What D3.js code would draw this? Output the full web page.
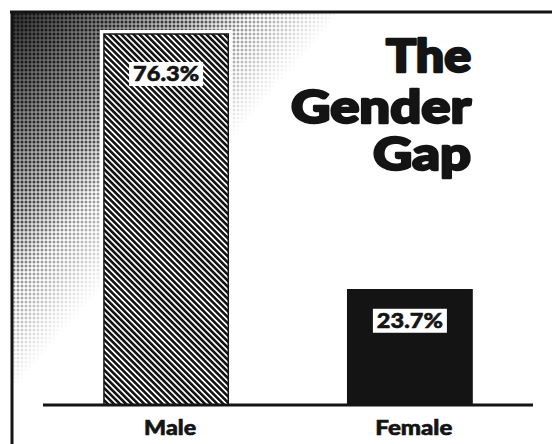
<!DOCTYPE html>
<html>
<head>
<meta charset="utf-8">
<script src="https://cdn.jsdelivr.net/npm/d3@7"></script>
<style>
  body { margin: 0; background: #fff; }
  svg { display: block; }
</style>
</head>
<body>
<script>
// data
const categories = ["Male", "Female"];
const values = [76.3, 23.7];
const valueLabels = ["76.3%", "23.7%"];
const titleLines = ["The", "Gender", "Gap"];

const W = 552, H = 444;
const ink = "#141414";

const svg = d3.select("body").append("svg")
  .attr("width", W)
  .attr("height", H);

const defs = svg.append("defs");

// halftone dots for the shaded corner
const dots = defs.append("pattern")
  .attr("id", "dots")
  .attr("patternUnits", "userSpaceOnUse")
  .attr("width", 4)
  .attr("height", 4);
dots.append("circle")
  .attr("cx", 2).attr("cy", 2).attr("r", 1.5)
  .attr("fill", ink);

const fade = defs.append("linearGradient")
  .attr("id", "fade")
  .attr("gradientUnits", "userSpaceOnUse")
  .attr("x1", 12).attr("y1", 12)
  .attr("x2", 200).attr("y2", 176);
fade.append("stop").attr("offset", 0).attr("stop-color", "#fff").attr("stop-opacity", 1);
fade.append("stop").attr("offset", 0.55).attr("stop-color", "#fff").attr("stop-opacity", 0.75);
fade.append("stop").attr("offset", 1).attr("stop-color", "#fff").attr("stop-opacity", 0);

const mask = defs.append("mask").attr("id", "fadeMask");
mask.append("rect")
  .attr("width", W).attr("height", H)
  .attr("fill", "url(#fade)");

const dark = defs.append("linearGradient")
  .attr("id", "dark")
  .attr("gradientUnits", "userSpaceOnUse")
  .attr("x1", 12).attr("y1", 12)
  .attr("x2", 150).attr("y2", 132);
dark.append("stop").attr("offset", 0).attr("stop-color", "#222").attr("stop-opacity", 0.95);
dark.append("stop").attr("offset", 1).attr("stop-color", "#222").attr("stop-opacity", 0);

// diagonal hatch for the male bar
const hatch = defs.append("pattern")
  .attr("id", "hatch")
  .attr("patternUnits", "userSpaceOnUse")
  .attr("width", 4.3)
  .attr("height", 10)
  .attr("patternTransform", "rotate(-45)");
hatch.append("rect").attr("width", 4.3).attr("height", 10).attr("fill", "#fff");
hatch.append("rect").attr("width", 2.6).attr("height", 10).attr("fill", ink);

// shaded corner
svg.append("rect")
  .attr("x", 13).attr("y", 13)
  .attr("width", W - 13).attr("height", H - 13)
  .attr("fill", "url(#dark)");
svg.append("rect")
  .attr("x", 13).attr("y", 13)
  .attr("width", W - 13).attr("height", H - 13)
  .attr("fill", "url(#dots)")
  .attr("mask", "url(#fadeMask)");

// frame: top and left rules only
svg.append("line")
  .attr("x1", 10).attr("x2", W)
  .attr("y1", 12).attr("y2", 12)
  .attr("stroke", ink).attr("stroke-width", 3);
svg.append("line")
  .attr("x1", 12).attr("x2", 12)
  .attr("y1", 11).attr("y2", H)
  .attr("stroke", ink).attr("stroke-width", 3);

// scales
const x = d3.scaleBand()
  .domain(categories)
  .range([43, 533])
  .paddingInner(0.49)
  .paddingOuter(0.25);

const y = d3.scaleLinear()
  .domain([0, d3.max(values)])
  .range([405, 34]);

const data = categories.map((c, i) => ({ cat: c, value: values[i], label: valueLabels[i] }));

// bars
const bars = svg.append("g");
bars.selectAll("rect.halo")
  .data(data.filter(d => d.cat === "Male"))
  .join("rect")
  .attr("class", "halo")
  .attr("x", d => x(d.cat) - 4)
  .attr("y", d => y(d.value) - 4)
  .attr("width", x.bandwidth() + 8)
  .attr("height", d => y(0) - y(d.value) + 4)
  .attr("fill", "#fff");

bars.selectAll("rect.bar")
  .data(data)
  .join("rect")
  .attr("class", "bar")
  .attr("x", d => x(d.cat))
  .attr("y", d => y(d.value))
  .attr("width", x.bandwidth())
  .attr("height", d => y(0) - y(d.value))
  .attr("fill", d => d.cat === "Male" ? "url(#hatch)" : ink)
  .attr("stroke", ink)
  .attr("stroke-width", 1.5);

// value boxes
const boxW = 74, boxH = 24;
const labels = svg.append("g");
labels.selectAll("rect")
  .data(data)
  .join("rect")
  .attr("x", d => x(d.cat) + x.bandwidth() / 2 - boxW / 2)
  .attr("y", (d, i) => y(d.value) + (i === 0 ? 28 : 19))
  .attr("width", boxW)
  .attr("height", boxH)
  .attr("fill", "#fff");
labels.selectAll("text")
  .data(data)
  .join("text")
  .attr("x", d => x(d.cat) + x.bandwidth() / 2)
  .attr("y", (d, i) => y(d.value) + (i === 0 ? 28 : 19) + 19)
  .attr("text-anchor", "middle")
  .attr("font-family", "Lato, 'DejaVu Sans', sans-serif")
  .attr("font-weight", 900)
  .attr("font-size", 21)
  .attr("textLength", 66)
  .attr("lengthAdjust", "spacingAndGlyphs")
  .attr("fill", ink)
  .attr("stroke", ink)
  .attr("stroke-width", 0.6)
  .text(d => d.label);

// baseline
svg.append("line")
  .attr("x1", 43).attr("x2", 533)
  .attr("y1", y(0)).attr("y2", y(0))
  .attr("stroke", ink).attr("stroke-width", 3);

// category labels
const catWidths = [52, 77];
svg.append("g").selectAll("text")
  .data(categories)
  .join("text")
  .attr("x", d => x(d) + x.bandwidth() / 2 + 4)
  .attr("y", 435)
  .attr("text-anchor", "middle")
  .attr("font-family", "Lato, 'DejaVu Sans', sans-serif")
  .attr("font-weight", 900)
  .attr("font-size", 20)
  .attr("textLength", (d, i) => catWidths[i])
  .attr("lengthAdjust", "spacingAndGlyphs")
  .attr("fill", ink)
  .attr("stroke", ink)
  .attr("stroke-width", 0.6)
  .text(d => d);

// title, right aligned
const titleBase = [72, 123, 170];
const titleWidths = [85, 180, 98];
svg.append("g").selectAll("text")
  .data(titleLines)
  .join("text")
  .attr("x", (d, i) => 471 - titleWidths[i])
  .attr("y", (d, i) => titleBase[i])
  .attr("font-family", "Lato, 'DejaVu Sans', sans-serif")
  .attr("font-weight", 900)
  .attr("font-size", 45)
  .attr("textLength", (d, i) => titleWidths[i])
  .attr("lengthAdjust", "spacingAndGlyphs")
  .attr("fill", ink)
  .attr("stroke", ink)
  .attr("stroke-width", 2.4)
  .attr("stroke-linejoin", "round")
  .text(d => d);
</script>
</body>
</html>
